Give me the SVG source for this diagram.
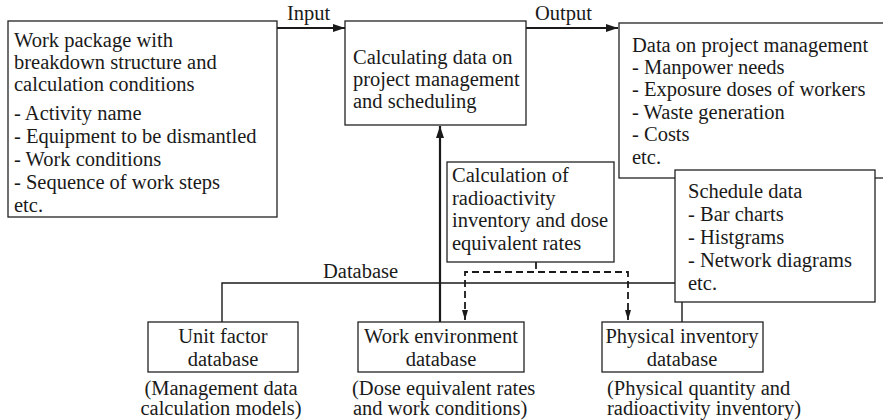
<svg xmlns="http://www.w3.org/2000/svg" width="883" height="420" viewBox="0 0 883 420">
<style>
.t{font-family:'Liberation Serif',serif;font-size:20.5px;fill:#1a1a1a}
.box{fill:#fff;stroke:#222;stroke-width:1.3}
.thick{fill:none;stroke:#1a1a1a;stroke-width:2.2}
.thin{fill:none;stroke:#1a1a1a;stroke-width:1.4}
.dash{fill:none;stroke:#1a1a1a;stroke-width:1.8;stroke-dasharray:7,4}
.m{text-anchor:middle}
</style>
<defs>
<marker id="ah" viewBox="0 0 12 8" refX="12" refY="4" markerWidth="12" markerHeight="8" markerUnits="userSpaceOnUse" orient="auto"><path d="M0,0 L12,4 L0,8 Z" fill="#1a1a1a"/></marker>
<marker id="ahs" viewBox="0 0 10 6" refX="10" refY="3" markerWidth="10" markerHeight="6" markerUnits="userSpaceOnUse" orient="auto"><path d="M0,0 L10,3 L0,6 Z" fill="#1a1a1a"/></marker>
</defs>
<g id="connectors">
<path class="thick" d="M277,28 H345" marker-end="url(#ah)"/>
<path class="thick" d="M526,28 H618" marker-end="url(#ah)"/>
<path class="thick" d="M440,322 V126" marker-end="url(#ah)"/>
<path class="thin" d="M222,322 V283 H682 V322"/>
<path class="dash" d="M536,262 V272"/>
<path class="dash" d="M465,320 V272 H628 V320"/>
<path d="M465,312 V320" stroke="none" marker-end="url(#ahs)"/>
<path d="M628,312 V320" stroke="none" marker-end="url(#ahs)"/>
<text class="t" x="287" y="20">Input</text>
<text class="t" x="535" y="20">Output</text>
<text class="t" x="323" y="278">Database</text>
</g>
<g id="work-package">
<rect class="box" x="8" y="21" width="269" height="196"/>
<text class="t" x="14" y="47">Work package with</text>
<text class="t" x="14" y="69">breakdown structure and</text>
<text class="t" x="14" y="91">calculation conditions</text>
<text class="t" x="14" y="120">- Activity name</text>
<text class="t" x="14" y="143">- Equipment to be dismantled</text>
<text class="t" x="14" y="166">- Work conditions</text>
<text class="t" x="14" y="189">- Sequence of work steps</text>
<text class="t" x="14" y="212">etc.</text>
</g>
<g id="calculating">
<rect class="box" x="345" y="21" width="181" height="104"/>
<text class="t" x="353" y="64">Calculating data on</text>
<text class="t" x="353" y="86">project management</text>
<text class="t" x="353" y="108">and scheduling</text>
</g>
<g id="project-data">
<rect class="box" x="619" y="23" width="280" height="155"/>
<text class="t" x="632" y="52">Data on project management</text>
<text class="t" x="632" y="74">- Manpower needs</text>
<text class="t" x="632" y="96">- Exposure doses of workers</text>
<text class="t" x="632" y="119">- Waste generation</text>
<text class="t" x="632" y="141">- Costs</text>
<text class="t" x="632" y="164">etc.</text>
</g>
<g id="schedule-data">
<rect class="box" x="675" y="170" width="200" height="132"/>
<text class="t" x="688" y="198">Schedule data</text>
<text class="t" x="688" y="221">- Bar charts</text>
<text class="t" x="688" y="244">- Histgrams</text>
<text class="t" x="688" y="267">- Network diagrams</text>
<text class="t" x="688" y="290">etc.</text>
</g>
<g id="calc-radioactivity">
<rect class="box" x="447" y="162" width="167" height="100"/>
<text class="t" x="452" y="182">Calculation of</text>
<text class="t" x="452" y="205">radioactivity</text>
<text class="t" x="452" y="227">inventory and dose</text>
<text class="t" x="452" y="250">equivalent rates</text>
</g>
<g id="unit-factor">
<rect class="box" x="148" y="322" width="150" height="50"/>
<text class="t m" x="223" y="343">Unit factor</text>
<text class="t m" x="223" y="366">database</text>
<text class="t m" x="221" y="395">(Management data</text>
<text class="t m" x="221" y="415">calculation models)</text>
</g>
<g id="work-environment">
<rect class="box" x="358" y="322" width="166" height="50"/>
<text class="t m" x="441" y="343">Work environment</text>
<text class="t m" x="441" y="366">database</text>
<text class="t" x="352" y="395">(Dose equivalent rates</text>
<text class="t" x="353" y="415">and work conditions)</text>
</g>
<g id="physical-inventory">
<rect class="box" x="602" y="322" width="161" height="50"/>
<text class="t m" x="682" y="343">Physical inventory</text>
<text class="t m" x="682" y="366">database</text>
<text class="t" x="607" y="395">(Physical quantity and</text>
<text class="t" x="607" y="415">radioactivity inventory)</text>
</g>
</svg>
